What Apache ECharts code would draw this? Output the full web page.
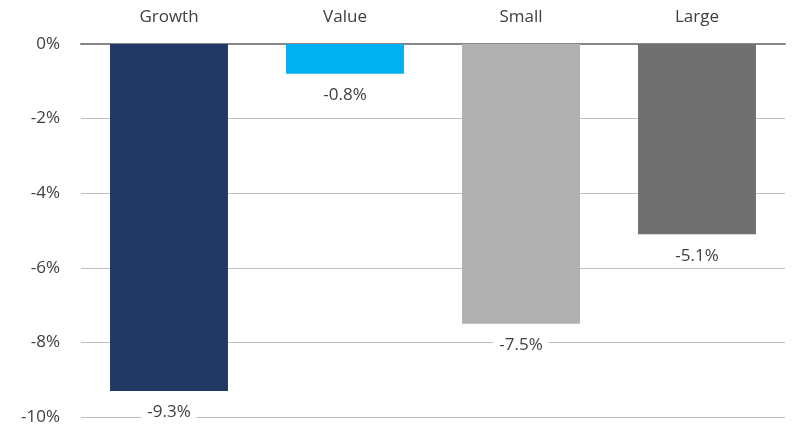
<!DOCTYPE html>
<html><head><meta charset="utf-8">
<script src="https://cdn.jsdelivr.net/npm/echarts@6/dist/echarts.min.js"></script>
<style>html,body{margin:0;padding:0;background:#fff}#c{width:792px;height:429px}</style>
</head><body><div id="c"></div>
<script>
const categories = ['Growth', 'Value', 'Small', 'Large'];
const values = [-9.3, -0.8, -7.5, -5.1];
const barColors = ['#203864', '#00B0F0', '#B0B0B0', '#707070'];
const yTicks = [0, -2, -4, -6, -8, -10];

const chart = echarts.init(document.getElementById('c'));
const font = '"Open Sans", "Noto Sans", sans-serif';
chart.setOption({
  animation: false,
  grid: { left: 81, right: 7, top: 44, bottom: 12 },
  xAxis: {
    type: 'category', data: categories, position: 'top',
    axisLine: { lineStyle: { color: '#868686', width: 2 } },
    axisTick: { show: false },
    axisLabel: { color: '#404040', fontSize: 17, fontFamily: font, margin: 18 }
  },
  yAxis: {
    type: 'value', min: -10, max: 0, interval: 2,
    axisLine: { show: false }, axisTick: { show: false },
    splitLine: { lineStyle: { color: '#BFBFBF', width: 1 } },
    axisLabel: { color: '#404040', fontSize: 17, fontFamily: font, margin: 21,
      formatter: v => yTicks.includes(v) ? v + '%' : '' }
  },
  series: [{
    type: 'bar', barWidth: '67%',
    data: values.map((v, i) => ({ value: v, itemStyle: { color: barColors[i] } })),
    label: { show: true, position: 'bottom', distance: 11, color: '#404040', fontSize: 17,
      fontFamily: font, backgroundColor: '#fff', padding: [2, 6],
      formatter: p => p.value.toFixed(1) + '%' }
  }]
});
</script></body></html>
